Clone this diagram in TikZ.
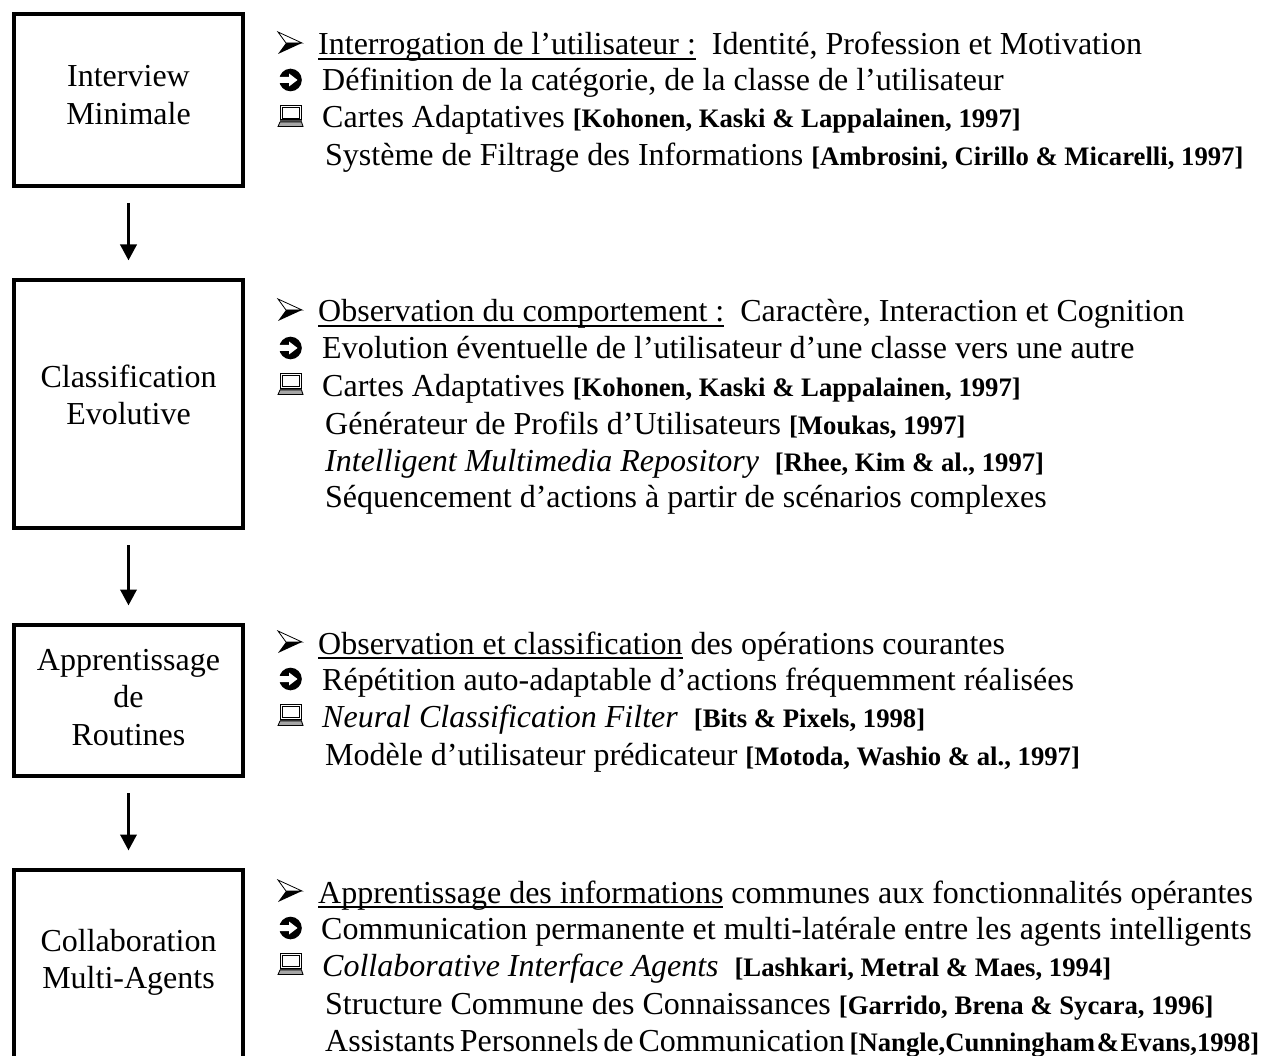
\documentclass[tikz,border=0pt]{standalone}
\usepackage{fontspec}
\setmainfont{Liberation Serif}
\usetikzlibrary{arrows.meta}
\tikzset{
  stagebox/.style={draw=black,line width=4pt,fill=white,align=center,inner sep=0pt},
  stagetext/.style={align=center,inner sep=0pt,font=\fontsize{32}{37.5}\selectfont},
  flowarrow/.style={-{Triangle[length=16pt,width=16pt]},line width=3.6pt,shorten <=15pt,shorten >=17.5pt},
  textline/.style={anchor=base west,inner sep=0pt,font=\fontsize{32}{37}\selectfont},
  pics/markarrow/.style={code={
    \filldraw[fill=white,draw=black,line width=.8pt] (1,-22) -- (25,-11) -- (9,-11) -- cycle;
    \fill[black] (1,0) -- (25,-11) -- (9,-11) -- cycle;
  }},
  pics/markcircle/.style={code={
    \fill[black] (13.5,-10) circle (11.3);
    \fill[white] (1.5,-13) -- (12,-13) -- (12,-16.5) -- (20.5,-10) -- (12,-3.5) -- (12,-7) -- (1.5,-7) -- cycle;
  }},
  pics/marklaptop/.style={code={
    \draw[black,line width=1pt,fill=white] (3.5,-21.5) rectangle (24,-7);
    \draw[black,line width=.7pt,fill=white] (5.5,-19.5) rectangle (22,-8.5);
    \fill[black!70] (3,-6.5) rectangle (24.5,-5);
    \draw[black,line width=.8pt,fill=black!35] (1,-.5) -- (3,-5) -- (24.5,-5) -- (26,-.5) -- cycle;
  }}
}
\newcommand{\cit}[1]{{\fontsize{26.7}{30}\selectfont\bfseries #1}}
\newcommand{\ulin}[1]{\leavevmode\vtop{\hbox{\smash{#1}}\kern2.6pt\hrule height2pt}}
\begin{document}
\begin{tikzpicture}[x=1pt,y=-1pt]
\useasboundingbox (0,0) rectangle (1274,1056);
\clip (0,0) rectangle (1274,1056);
\node[stagebox,minimum width=229pt,minimum height=172pt] (a) at (128.5,100) {};
\node[stagebox,minimum width=229pt,minimum height=248pt] (b) at (128.5,404) {};
\node[stagebox,minimum width=229pt,minimum height=151pt] (c) at (128.5,700.5) {};
\node[stagebox,minimum width=229pt,minimum height=220pt] (d) at (128.5,980) {};
\node[stagetext] (at) at (128.5,95) {Interview\\Minimale};
\node[stagetext] (bt) at (128.5,395) {Classification\\Evolutive};
\node[stagetext] (ct) at (128.5,697.5) {Apprentissage\\de\\Routines};
\node[stagetext] (dt) at (128.5,962.5) {Collaboration\\Multi-Agents};
\draw[flowarrow] (a) -- (b);
\draw[flowarrow] (b) -- (c);
\draw[flowarrow] (c) -- (d);
% block 1
\pic at (277,54) {markarrow};
\node[textline] (a1) at (318,55) {\ulin{Interrogation de l’utilisateur :}\ \ Identité, Profession et Motivation};
\pic at (277,90) {markcircle};
\node[textline] (a2) at (322,91) {Définition de la catégorie, de la classe de l’utilisateur};
\pic at (277,127) {marklaptop};
\node[textline] (a3) at (322,128) {Cartes Adaptatives \cit{[Kohonen, Kaski \& Lappalainen, 1997]}};
\node[textline] (a4) at (325,166) {Système de Filtrage des Informations \cit{[Ambrosini, Cirillo \& Micarelli, 1997]}};
% block 2
\pic at (277,321) {markarrow};
\node[textline] (b1) at (318,322) {\ulin{Observation du comportement :}\ \ Caractère, Interaction et Cognition};
\pic at (277,358) {markcircle};
\node[textline] (b2) at (322,359) {Evolution éventuelle de l’utilisateur d’une classe vers une autre};
\pic at (277,395) {marklaptop};
\node[textline] (b3) at (322,396) {Cartes Adaptatives \cit{[Kohonen, Kaski \& Lappalainen, 1997]}};
\node[textline] (b4) at (325,434) {Générateur de Profils d’Utilisateurs \cit{[Moukas, 1997]}};
\node[textline] (b5) at (325,471) {\textit{Intelligent Multimedia Repository}\ \ \cit{[Rhee, Kim \& al., 1997]}};
\node[textline] (b6) at (325,507) {Séquencement d’actions à partir de scénarios complexes};
% block 3
\pic at (277,653) {markarrow};
\node[textline] (c1) at (318,654) {\ulin{Observation et classification} des opérations courantes};
\pic at (277,689) {markcircle};
\node[textline] (c2) at (322,690) {Répétition auto-adaptable d’actions fréquemment réalisées};
\pic at (277,726) {marklaptop};
\node[textline] (c3) at (322,727) {\textit{Neural Classification Filter}\ \ \cit{[Bits \& Pixels, 1998]}};
\node[textline] (c4) at (325,765) {Modèle d’utilisateur prédicateur \cit{[Motoda, Washio \& al., 1997]}};
% block 4
\pic at (277,902) {markarrow};
\node[textline] (d1) at (318,903) {\ulin{Apprentissage des informations} communes aux fonctionnalités opérantes};
\pic at (277,938) {markcircle};
\node[textline] (d2) at (321,939) {Communication permanente et multi-latérale entre les agents intelligents};
\pic at (277,975) {marklaptop};
\node[textline] (d3) at (322,976) {\textit{Collaborative Interface Agents}\ \ \cit{[Lashkari, Metral \& Maes, 1994]}};
\node[textline] (d4) at (325,1014) {Structure Commune des Connaissances \cit{[Garrido, Brena \& Sycara, 1996]}};
\node[textline] (d5) at (325,1051) {\spaceskip=4.9pt Assistants Personnels de Communication \cit{\spaceskip=1.6pt [Nangle,Cunningham \& Evans,1998]}};
\end{tikzpicture}
\end{document}
